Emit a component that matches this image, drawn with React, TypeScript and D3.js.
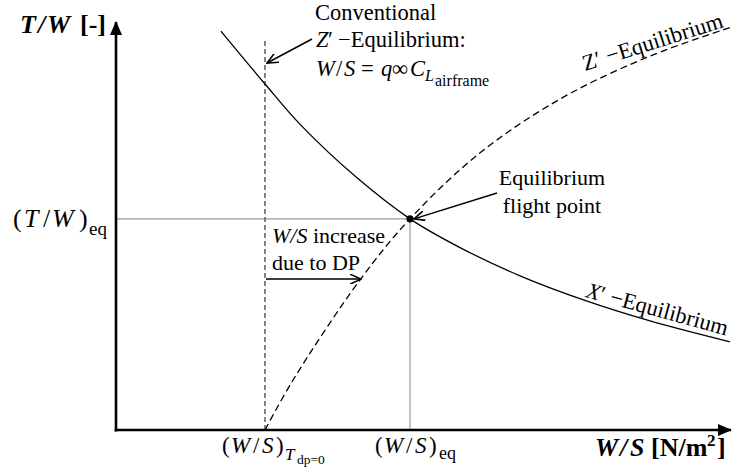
import React from "react";
import * as d3 from "d3";

// W/S in arbitrary normalized units, T/W in normalized units (conceptual chart)
const xPrimeWS = [1.70, 2.415, 2.98, 3.906, 4.765, 5.575, 6.548, 7.60, 8.655, 9.95];
const xPrimeTW = [0.973, 0.844, 0.746, 0.615, 0.515, 0.445, 0.376, 0.316, 0.266, 0.215];
const zPrimeWS = [2.415, 2.87, 3.955, 4.765, 5.90, 7.23, 8.655, 9.98];
const zPrimeTW = [0, 0.122, 0.366, 0.515, 0.676, 0.810, 0.912, 0.983];
const WS_EQ = 4.765;
const TW_EQ = 0.515;
const WS_TDP0 = 2.415;
const CONV_TOP = 0.951;
const DP_ARROW_TW = 0.368;
const DP_ARROW_END = 3.97;

const W = 738;
const H = 469;
const SERIF = '"Liberation Serif", "DejaVu Serif", serif';

export default function App() {
  const x = d3.scaleLinear().domain([0, 10]).range([116, 733]);
  const y = d3.scaleLinear().domain([0, 1]).range([430, 20]);
  const line = d3
    .line<[number, number]>()
    .x((d) => x(d[0]))
    .y((d) => y(d[1]))
    .curve(d3.curveCatmullRom.alpha(0.5));
  const xPts = xPrimeWS.map((v, i) => [v, xPrimeTW[i]] as [number, number]);
  const zPts = zPrimeWS.map((v, i) => [v, zPrimeTW[i]] as [number, number]);

  const x0 = x(0);
  const y0 = y(0);
  const ts = { fontFamily: SERIF } as React.CSSProperties;

  return (
    <svg
      width={W}
      height={H}
      style={{ position: "absolute", left: 0, top: 0, background: "#fff", fontFamily: SERIF }}
    >
      <defs>
        <marker id="open" viewBox="0 0 12 10" refX="11" refY="5" markerWidth="12" markerHeight="10" markerUnits="userSpaceOnUse" orient="auto">
          <path d="M0,0 L11,5 L0,10" fill="none" stroke="#000" strokeWidth="1.6" />
        </marker>
        <marker id="tri" viewBox="0 0 14 12" refX="13" refY="6" markerWidth="14" markerHeight="12" markerUnits="userSpaceOnUse" orient="auto">
          <path d="M0,0 L14,6 L0,12 Z" fill="#000" />
        </marker>
      </defs>

      {/* reference lines */}
      <line x1={x0} x2={x(WS_EQ)} y1={y(TW_EQ)} y2={y(TW_EQ)} stroke="#999" strokeWidth={1.2} />
      <line x1={x(WS_EQ)} x2={x(WS_EQ)} y1={y(TW_EQ)} y2={y0} stroke="#999" strokeWidth={1.2} />

      {/* conventional Z' equilibrium vertical dashed */}
      <line x1={x(WS_TDP0)} x2={x(WS_TDP0)} y1={y0} y2={y(CONV_TOP)} stroke="#666" strokeWidth={1.6} strokeDasharray="5,3" />

      {/* curves */}
      <path d={line(xPts) || ""} fill="none" stroke="#000" strokeWidth={1.3} />
      <path d={line(zPts) || ""} fill="none" stroke="#000" strokeWidth={1.3} strokeDasharray="7,4" />

      {/* axes */}
      <line x1={x0} x2={x0} y1={y0 + 1.5} y2={y(1) + 2} stroke="#000" strokeWidth={2.6} markerEnd="url(#tri)" />
      <line x1={x0 - 1.3} x2={x(10) - 2} y1={y0} y2={y0} stroke="#000" strokeWidth={2.6} markerEnd="url(#tri)" />

      {/* equilibrium point */}
      <circle cx={x(WS_EQ)} cy={y(TW_EQ)} r={3.6} fill="#000" />

      {/* arrows */}
      <line x1={312} y1={39} x2={267} y2={63} stroke="#000" strokeWidth={1.5} markerEnd="url(#open)" />
      <line x1={497} y1={193} x2={x(WS_EQ) + 4} y2={y(TW_EQ) + 0} stroke="#000" strokeWidth={1.5} markerEnd="url(#open)" />
      <line x1={x(WS_TDP0) + 1} y1={y(DP_ARROW_TW)} x2={x(DP_ARROW_END)} y2={y(DP_ARROW_TW)} stroke="#000" strokeWidth={1.5} markerEnd="url(#open)" />

      {/* y axis title */}
      <text y={33} fontSize={26} fontWeight="bold" style={ts}>
        <tspan x={20} fontStyle="italic">T</tspan>
        <tspan x={38} fontStyle="italic">/</tspan>
        <tspan x={47} fontStyle="italic">W</tspan>
        <tspan x={80}>[-]</tspan>
      </text>

      {/* x axis title */}
      <text y={456} fontSize={26} fontWeight="bold" style={ts}>
        <tspan x={595} fontStyle="italic">W</tspan>
        <tspan x={620} fontStyle="italic">/</tspan>
        <tspan x={630} fontStyle="italic">S</tspan>
        <tspan x={651}>[N/m</tspan>
        <tspan x={707} fontSize={17} dy={-10}>2</tspan>
        <tspan x={717} dy={10}>]</tspan>
      </text>

      {/* y tick label */}
      <text y={227} fontSize={26} style={ts}>
        <tspan x={13}>(</tspan>
        <tspan x={24} fontStyle="italic">T</tspan>
        <tspan x={43}>/</tspan>
        <tspan x={52} fontStyle="italic">W</tspan>
        <tspan x={79}>)</tspan>
        <tspan x={89} fontSize={19} dy={8}>eq</tspan>
      </text>

      {/* x tick labels */}
      <text y={453} fontSize={23} style={ts}>
        <tspan x={222}>(</tspan>
        <tspan x={231} fontStyle="italic">W</tspan>
        <tspan x={253}>/</tspan>
        <tspan x={262} fontStyle="italic">S</tspan>
        <tspan x={276}>)</tspan>
        <tspan x={285} fontStyle="italic" fontSize={17} dy={7}>T</tspan>
        <tspan x={297} fontSize={13.5} dy={4}>dp=0</tspan>
      </text>
      <text y={453} fontSize={23} style={ts}>
        <tspan x={375}>(</tspan>
        <tspan x={384} fontStyle="italic">W</tspan>
        <tspan x={406}>/</tspan>
        <tspan x={415} fontStyle="italic">S</tspan>
        <tspan x={429}>)</tspan>
        <tspan x={439} fontSize={18} dy={6}>eq</tspan>
      </text>

      {/* conventional annotation */}
      <text x={315} y={20} fontSize={22.5} style={ts}>Conventional</text>
      <text y={47} fontSize={22.5} style={ts}>
        <tspan x={316} fontStyle="italic">Z</tspan>
        <tspan x={328}>′</tspan>
        <tspan x={338}>−Equilibrium:</tspan>
      </text>
      <text y={76} fontSize={22.5} style={ts}>
        <tspan x={316} fontStyle="italic">W</tspan>
        <tspan x={336}>/</tspan>
        <tspan x={344} fontStyle="italic">S</tspan>
        <tspan x={361}>=</tspan>
        <tspan x={381} fontStyle="italic">q</tspan>
        <tspan x={392}>∞</tspan>
        <tspan x={410} fontStyle="italic">C</tspan>
        <tspan x={425} fontStyle="italic" fontSize={16} dy={5}>L</tspan>
        <tspan x={435} fontSize={16} dy={5}>airframe</tspan>
      </text>

      {/* equilibrium flight point */}
      <text x={552} y={185} fontSize={22} textAnchor="middle" style={ts}>Equilibrium</text>
      <text x={552} y={213} fontSize={22} textAnchor="middle" style={ts}>flight point</text>

      {/* W/S increase */}
      <text x={272} y={243} fontSize={22} style={ts}>
        <tspan fontStyle="italic">W/S</tspan>
        <tspan> increase</tspan>
      </text>
      <text x={272} y={270} fontSize={22} style={ts}>due to DP</text>

      {/* curve labels */}
      <text transform="translate(585,71) rotate(-17.5)" fontSize={22.5} style={ts}>
        <tspan>Z′</tspan>
        <tspan dx={6}>−Equilibrium</tspan>
      </text>
      <text transform="translate(585,297) rotate(15.3)" fontSize={22.5} style={ts}>
        <tspan fontStyle="italic">X</tspan>
        <tspan>′</tspan>
        <tspan dx={6}>−Equilibrium</tspan>
      </text>
    </svg>
  );
}
